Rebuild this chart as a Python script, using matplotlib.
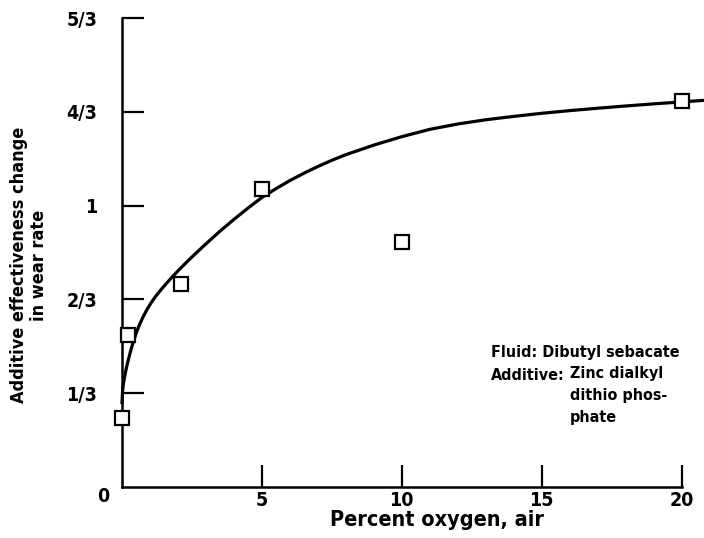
import matplotlib
matplotlib.use('Agg')
import matplotlib.pyplot as plt

plt.rcParams['font.family'] = ['DejaVu Sans']
plt.rcParams['font.stretch'] = 'condensed'

# Measured points (squares)
oxygen_pct = [0.0, 0.2, 2.1, 5.0, 10.0, 20.0]
effect_change = [0.245, 0.54, 0.72, 1.06, 0.87, 1.37]

# Faired curve
curve_x = [0.0, 0.02, 0.05, 0.1, 0.15, 0.2, 0.3, 0.4, 0.5, 0.6, 0.75, 0.9,
           1.05, 1.2, 1.4, 1.6, 1.8, 2.0, 2.3, 2.6, 3.0, 3.5, 4.0, 4.5, 5.0,
           5.5, 6.0, 6.5, 7.0, 7.5, 8.0, 9.0, 10.0, 11.0, 12.0, 13.0, 14.0,
           15.0, 16.0, 17.0, 18.0, 19.0, 20.0, 20.8]
curve_y = [0.30, 0.34, 0.367, 0.395, 0.42, 0.442, 0.48, 0.515, 0.545, 0.571,
           0.604, 0.632, 0.656, 0.677, 0.702, 0.725, 0.747, 0.768, 0.798,
           0.827, 0.864, 0.909, 0.951, 0.991, 1.029, 1.060, 1.089, 1.115,
           1.139, 1.161, 1.181, 1.215, 1.245, 1.271, 1.290, 1.305, 1.317,
           1.328, 1.3375, 1.346, 1.354, 1.3615, 1.3685, 1.374]

xticks = [5, 10, 15, 20]
yticks = [1/3, 2/3, 1, 4/3, 5/3]
ytick_labels = ['1/3', '2/3', '1', '4/3', '5/3']

W, H = 704, 538
fig = plt.figure(figsize=(W / 100, H / 100), dpi=100)
ax = fig.add_axes([122 / W, 1 - 487 / H, (704 - 122) / W, (487 - 18) / H])

ax.plot(curve_x, curve_y, color='black', lw=2.3, clip_on=False, zorder=2,
        solid_joinstyle='round')
ax.plot(oxygen_pct, effect_change, linestyle='none', marker='s', ms=10,
        mfc='white', mec='black', mew=1.6, clip_on=False, zorder=3)

ax.set_xlim(0, 20.8)
ax.set_ylim(0, 5/3)
ax.spines['top'].set_visible(False)
ax.spines['right'].set_visible(False)
ax.spines['bottom'].set_bounds(0, 20)
for s in ('left', 'bottom'):
    ax.spines[s].set_linewidth(1.8)

ax.set_xticks(xticks)
ax.set_xticklabels([str(t) for t in xticks])
ax.set_yticks(yticks)
ax.set_yticklabels(ytick_labels)
ax.tick_params(direction='in', length=16, width=1.6, labelsize=14, pad=3)
ax.tick_params(axis='y', pad=18)
for lab in ax.get_xticklabels() + ax.get_yticklabels():
    lab.set_fontweight('bold')

# shared origin label
fig.text(103 / W, 1 - 497 / H, '0', fontsize=14, fontweight='bold',
         ha='center', va='center')

fig.text(437 / W, 1 - 520 / H, 'Percent oxygen, air', fontsize=15.5,
         fontweight='bold', ha='center', va='center')
fig.text(29 / W, 1 - 265 / H, 'Additive effectiveness change\nin wear rate',
         fontsize=13, fontweight='bold', rotation=90, ha='center', va='center',
         linespacing=1.15)

fig.text(491 / W, 1 - 352 / H, 'Fluid: Dibutyl sebacate', fontsize=11.5,
         fontweight='bold', ha='left', va='center')
fig.text(491 / W, 1 - 375 / H, 'Additive:', fontsize=11.5,
         fontweight='bold', ha='left', va='center')
fig.text(570 / W, 1 - 366 / H, 'Zinc dialkyl\ndithio phos-\nphate', fontsize=11.5,
         fontweight='bold', ha='left', va='top', linespacing=1.6)

fig.savefig('out.png', dpi=100)
